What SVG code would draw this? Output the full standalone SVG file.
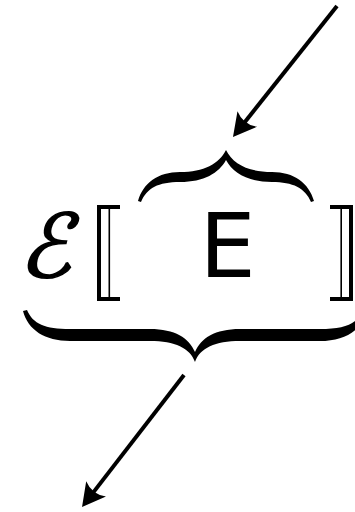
<svg xmlns="http://www.w3.org/2000/svg" width="355" height="512" viewBox="0 0 355 512">
  <style>
    .sym { font-family: "DejaVu Sans", "DejaVu Serif", serif; fill: #000; stroke: #000; stroke-width: 1.6; }
    .sans { font-family: "DejaVu Sans", "Liberation Sans", sans-serif; fill: #000; }
    .brace { fill: #000; stroke: none; }
    .bar { fill: #000; }
    .conn { stroke: #000; stroke-width: 4; fill: none; marker-end: url(#arrow); }
  </style>
  <defs>
    <marker id="arrow" markerUnits="userSpaceOnUse" orient="auto" refX="8" refY="0" markerWidth="30" markerHeight="30" overflow="visible">
      <path d="M23,0 L0,-12.5 Q7,0 0,12.5 Z" fill="#000"/>
    </marker>
  </defs>
  <rect width="355" height="512" fill="#fff"/>

  <g id="calE">
    <text class="sym" transform="translate(45,277) skewX(-14)" x="0" y="0" font-size="88" text-anchor="middle">ℰ</text>
  </g>

  <g id="leftBracket">
    <rect class="bar" x="97" y="205" width="23" height="4"/>
    <rect class="bar" x="97" y="297" width="23" height="4"/>
    <rect class="bar" x="97" y="205" width="4" height="96"/>
    <rect class="bar" x="108.5" y="207" width="1.6" height="92"/>
  </g>

  <g id="E">
    <text class="sans" x="227.5" y="277" font-size="89" text-anchor="middle">E</text>
  </g>

  <g id="rightBracket">
    <rect class="bar" x="330" y="205" width="23" height="4"/>
    <rect class="bar" x="330" y="297" width="23" height="4"/>
    <rect class="bar" x="349" y="205" width="4" height="96"/>
    <rect class="bar" x="340.4" y="207" width="1.6" height="92"/>
  </g>

  <g id="overbrace">
    <path class="brace" d="M138,201 C143,183 158,172 180,172 C204,172 219,164 226,150 C233,164 248,172 272,172 C294,172 309,183 314,201 L311,202 C305,188 293,182 272,182 C248,182 233,173 226,160 C219,173 204,182 180,182 C158,182 147,188 141,202 Z"/>
  </g>

  <g id="underbrace">
    <path class="brace" d="M23,311 C28,330 45,341 70,341 L150,341 C175,341 190,348 195,362 C200,348 215,341 240,341 L320,341 C345,341 362,330 367,311 L363,310 C357,324 345,329 320,329 L240,329 C215,329 201,338 195,352 C189,338 175,329 150,329 L70,329 C45,329 33,324 27,310 Z"/>
  </g>

  <g id="connectors">
    <line class="conn" x1="337" y1="6" x2="242.3" y2="125.3"/>
    <line class="conn" x1="184" y1="375" x2="91.2" y2="495.1"/>
  </g>
</svg>
